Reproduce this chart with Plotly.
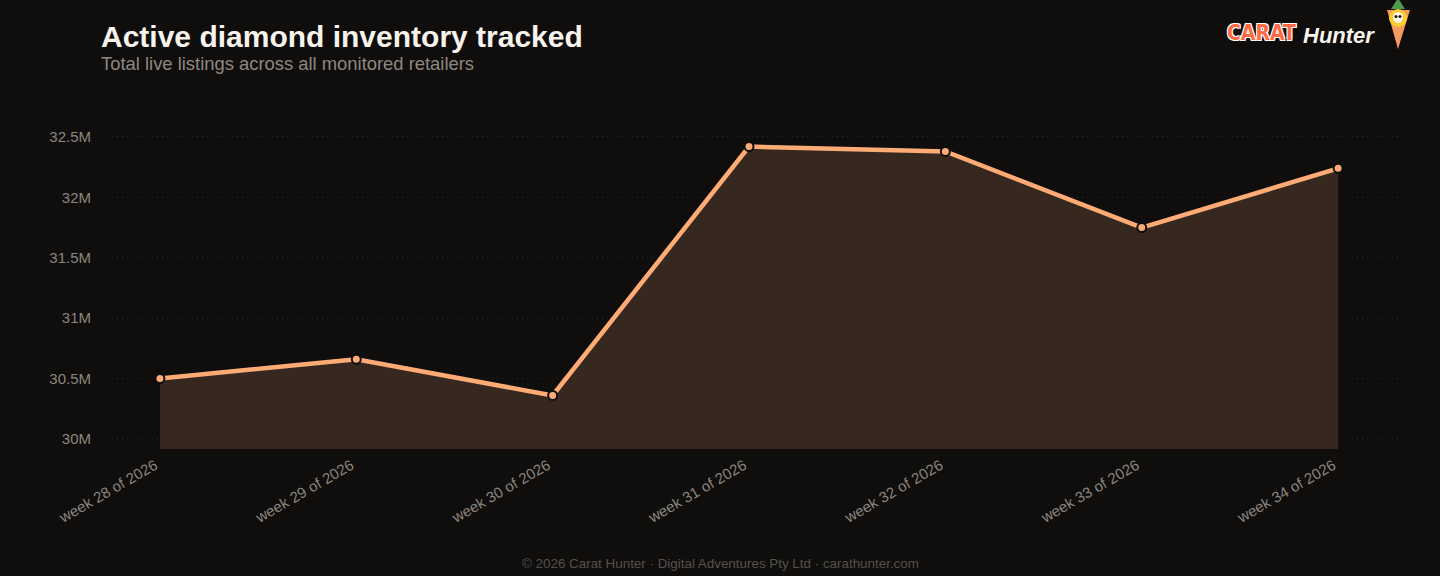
import plotly.graph_objects as go

# weekly totals (millions of listings)
weeks = ["week 28 of 2026", "week 29 of 2026", "week 30 of 2026", "week 31 of 2026",
         "week 32 of 2026", "week 33 of 2026", "week 34 of 2026"]
listings_m = [30.50, 30.66, 30.36, 32.42, 32.38, 31.75, 32.24]

tick_vals = [30.0, 30.5, 31.0, 31.5, 32.0, 32.5]
tick_text = ["30M", "30.5M", "31M", "31.5M", "32M", "32.5M"]

bg = "#0f0e0d"
line_col = "#ffab76"
fill_col = "#37281f"
grid_col = "#2a2725"
tick_col = "#8c857e"

W, H = 1440, 576
L, R, T, B = 102, 42, 110, 127


def px(x, y):
    # page pixels -> paper coords
    return (x - L) / (W - L - R), (H - B - y) / (H - T - B)


fig = go.Figure()
fig.add_trace(go.Scatter(
    x=weeks, y=listings_m,
    mode="lines+markers",
    line=dict(color=line_col, width=4.5),
    marker=dict(size=9, color=line_col, line=dict(color=bg, width=2)),
    fill="tozeroy", fillcolor=fill_col,
    hovertemplate="%{x}<br>%{y:.2f}M<extra></extra>",
))

fig.update_layout(
    width=W, height=H,
    paper_bgcolor=bg, plot_bgcolor=bg,
    margin=dict(l=L, r=R, t=T, b=B),
    showlegend=False,
    font=dict(family="Liberation Sans, Arial, sans-serif", color=tick_col),
)
fig.update_xaxes(
    range=[-0.295, 6.305], showgrid=False, zeroline=False, showline=False,
    tickangle=-30, tickfont=dict(size=15, color=tick_col), ticks="",
    ticklabelstandoff=4, ticklabelshift=-5,
)
fig.update_yaxes(
    range=[29.917, 32.723], tickvals=tick_vals, ticktext=tick_text,
    showgrid=True, gridcolor=grid_col, griddash="1px,4px", gridwidth=1,
    zeroline=False, showline=False, tickfont=dict(size=15, color=tick_col),
    ticklabelstandoff=10,
)

# title block
x0, y0 = px(99, 18)
fig.add_annotation(x=x0, y=y0, xref="paper", yref="paper", xanchor="left", yanchor="top",
                   text="<b>Active diamond inventory tracked</b>", showarrow=False,
                   font=dict(size=30, color="#f8f3ec"))
x0, y0 = px(99, 51)
fig.add_annotation(x=x0, y=y0, xref="paper", yref="paper", xanchor="left", yanchor="top",
                   text="Total live listings across all monitored retailers", showarrow=False,
                   font=dict(size=18.4, color="#8f8880"))

# footer
x0, y0 = px(720, 563)
fig.add_annotation(x=x0, y=y0, xref="paper", yref="paper", xanchor="center", yanchor="middle",
                   text="© 2026 Carat Hunter · Digital Adventures Pty Ltd · carathunter.com",
                   showarrow=False, font=dict(size=13.4, color="#56514c"))

# logo
x0, y0 = px(1298, 33)
fig.add_annotation(x=x0, y=y0, xref="paper", yref="paper", xanchor="right", yanchor="middle",
                   text="<b>CARAT</b>", showarrow=False,
                   font=dict(size=21, color="#ff6a43", family="DejaVu Sans Condensed, Liberation Sans, sans-serif",
                             shadow="1px 1px 0 #fff, -1px -1px 0 #fff, 1px -1px 0 #fff, -1px 1px 0 #fff"))
x0, y0 = px(1301, 35)
fig.add_annotation(x=x0, y=y0, xref="paper", yref="paper", xanchor="left", yanchor="middle",
                   text="<b><i>Hunter</i></b>", showarrow=False,
                   font=dict(size=22, color="#f8f3ec"))

# carrot mascot
a = px(1387, 10); b = px(1410, 10); c = px(1398, 49)
fig.add_shape(type="path", xref="paper", yref="paper",
              path=f"M {a[0]},{a[1]} L {b[0]},{b[1]} L {c[0]},{c[1]} Z",
              fillcolor="#f39a5e", line=dict(color="#f39a5e", width=0))
a = px(1391, 9); b = px(1405, 9); c = px(1398, -2)
fig.add_shape(type="path", xref="paper", yref="paper",
              path=f"M {a[0]},{a[1]} L {b[0]},{b[1]} L {c[0]},{c[1]} Z",
              fillcolor="#4f9a4f", line=dict(width=0))
a = px(1389, 9); b = px(1407, 27)
fig.add_shape(type="circle", xref="paper", yref="paper",
              x0=a[0], y0=a[1], x1=b[0], y1=b[1],
              fillcolor="#ffcc2e", line=dict(width=0))
a = px(1393, 12); b = px(1403, 23)
fig.add_shape(type="circle", xref="paper", yref="paper",
              x0=a[0], y0=a[1], x1=b[0], y1=b[1],
              fillcolor="#fff4e6", line=dict(width=0))
for ex in (1396, 1400):
    a = px(ex - 1.5, 15); b = px(ex + 1.5, 18)
    fig.add_shape(type="circle", xref="paper", yref="paper",
                  x0=a[0], y0=a[1], x1=b[0], y1=b[1],
                  fillcolor="#1a1a1a", line=dict(width=0))

fig.write_html("out.html", config={"displayModeBar": False},
               post_script="document.body.style.margin='0';document.body.style.background='%s';" % bg)
